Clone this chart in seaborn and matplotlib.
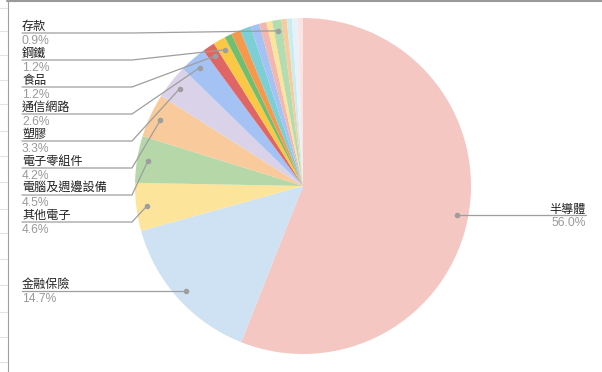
#%%
import numpy as np
import seaborn as sns
import matplotlib
matplotlib.use('Agg')
from matplotlib import pyplot as plt

#%% data (clockwise from 12 o'clock)
sectors = ['半導體', '金融保險', '其他電子', '電腦及週邊設備', '電子零組件', '塑膠',
           '通信網路', '食品', '鋼鐵', '', '', '', '', '', '', '存款', '', '', '', '']
shares = [56.0, 14.7, 4.6, 4.5, 4.2, 3.3, 2.6, 1.2, 1.2,
          0.7, 0.9, 1.05, 0.85, 0.7, 0.55, 0.9, 0.5, 0.5, 0.55, 0.5]
colors = ['#f4c7c3', '#cfe2f3', '#fde49b', '#b6d7a8', '#f9cb9c', '#d9d2e9',
          '#a4c2f4', '#e06666', '#fbc846', '#6fbf73', '#f7994d', '#7ccfd4',
          '#a4c2f4', '#f4b6b0', '#fde49a', '#b3dcb0', '#f9cb9c', '#c9ecef',
          '#e8f1fa', '#fbe4e2']

# where the left-hand labels sit (underline y, px from top)
left_label_y = {'存款': 33, '鋼鐵': 60, '食品': 87, '通信網路': 114, '塑膠': 141,
                '電子零組件': 168, '電腦及週邊設備': 195, '其他電子': 222}

#%%
sns.set_style('white')
plt.rcParams['font.family'] = ['Liberation Sans', 'Noto Sans CJK TC', 'DejaVu Sans']

W, H = 602, 372
fig = plt.figure(figsize=(W / 100, H / 100), dpi=100)
ax = fig.add_axes([0, 0, 1, 1])

cx, cy, R = 303, 186, 168
wedges, _ = ax.pie(shares, colors=sns.color_palette(colors), center=(cx, cy), radius=R,
                   startangle=270, counterclock=True,
                   wedgeprops=dict(linewidth=0))
ax.set_xlim(0, W)
ax.set_ylim(H, 0)
ax.set_aspect('equal')
ax.axis('off')

total = sum(shares)
line_c = '#9e9e9e'
name_c = '#222222'
pct_c = '#9a9a9a'
fs = 8.7
x_left, x_elbow, x_right = 22, 132, 586

for w, name, v in zip(wedges, sectors, shares):
    if not name:
        continue
    th = np.deg2rad((w.theta1 + w.theta2) / 2)
    dx = cx + 0.935 * R * np.cos(th)
    dy = cy + 0.935 * R * np.sin(th)
    pct = f'{v / total * 100:.1f}%'
    ax.plot(dx, dy, 'o', ms=3, color=line_c, zorder=4)
    if dx > cx:
        ax.plot([dx, x_right], [dy, dy], color=line_c, lw=0.9)
        ax.text(x_right, dy - 3, name, ha='right', va='baseline', fontsize=fs, color=name_c)
        ax.text(x_right, dy + 11, pct, ha='right', va='baseline', fontsize=fs, color=pct_c)
    else:
        ly = left_label_y.get(name, dy)
        ax.plot([x_left, x_elbow, dx], [ly, ly, dy], color=line_c, lw=0.9)
        ax.text(x_left, ly - 3, name, ha='left', va='baseline', fontsize=fs, color=name_c)
        ax.text(x_left, ly + 11, pct, ha='left', va='baseline', fontsize=fs, color=pct_c)

# sheet frame
ax.plot([7, W], [0.8, 0.8], color='#9a9a9a', lw=1.5, clip_on=False)
ax.plot([7.5, 7.5], [0, H], color='#a0a0a0', lw=0.8, clip_on=False)
for gy in [8, 31, 55, 80, 104, 131, 156, 182, 209, 233, 259, 285, 312, 337, 362]:
    ax.plot([0, 7], [gy, gy], color='#e2e2e2', lw=0.8, clip_on=False)

plt.savefig('out.png', dpi=100)
